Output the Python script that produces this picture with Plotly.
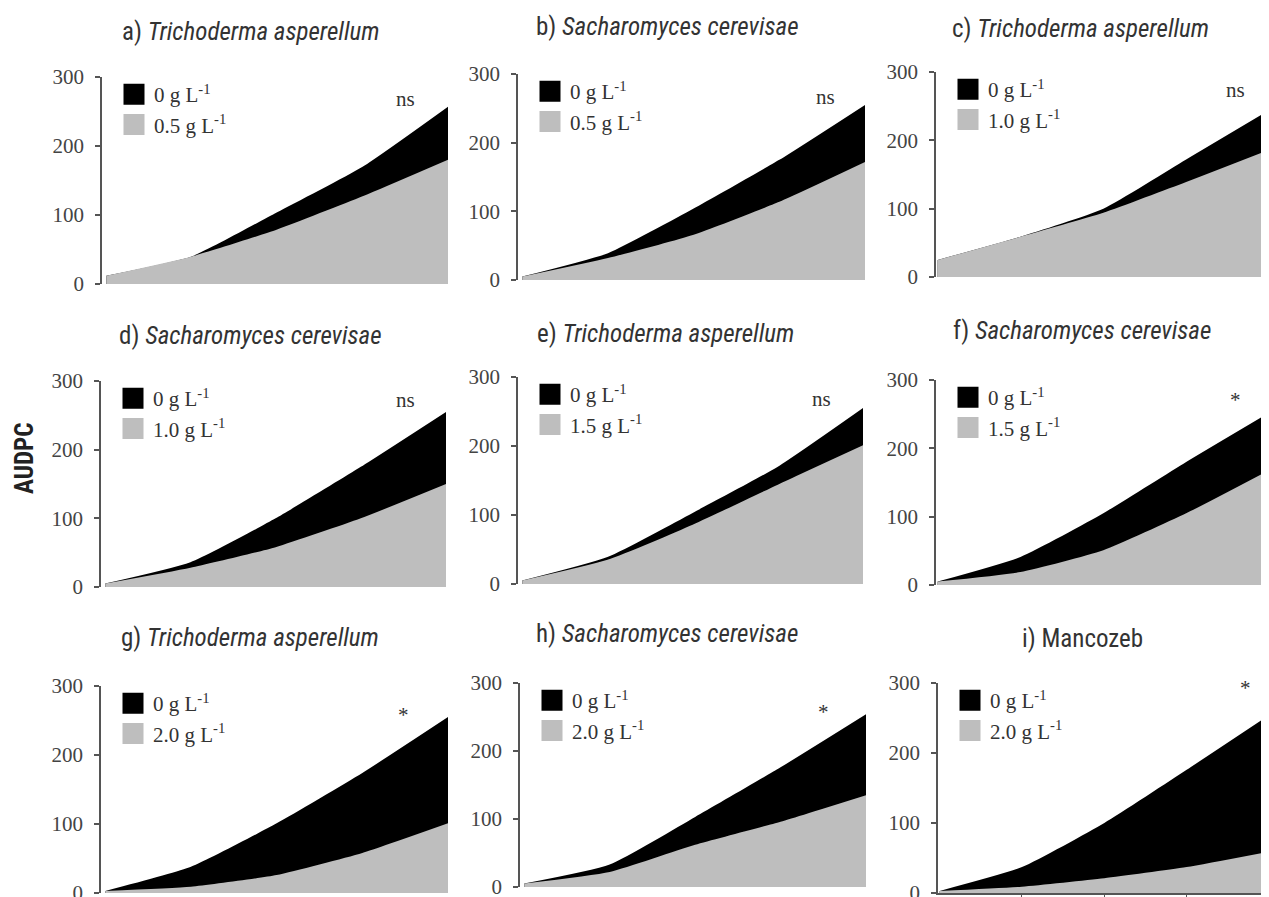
import plotly.graph_objects as go

W, H = 1269, 897
OFF = 8  # page body margin in the browser

time_points = [0, 1, 2, 3, 4]

panel_titles = [
    "a) <i>Trichoderma asperellum</i>",
    "b) <i>Sacharomyces cerevisae</i>",
    "c) <i>Trichoderma asperellum</i>",
    "d) <i>Sacharomyces cerevisae</i>",
    "e) <i>Trichoderma asperellum</i>",
    "f) <i>Sacharomyces cerevisae</i>",
    "g) <i>Trichoderma asperellum</i>",
    "h) <i>Sacharomyces cerevisae</i>",
    "i) Mancozeb",
]
dose_labels = ["0.5", "0.5", "1.0", "1.0", "1.5", "1.5", "2.0", "2.0", "2.0"]
signif_labels = ["ns", "ns", "ns", "ns", "ns", "*", "*", "*", "*"]

control_a = [12, 40, 104, 170, 257]
treated_a = [12, 40, 79, 127, 180]
control_b = [5, 39, 104, 175, 255]
treated_b = [5, 32, 66, 114, 172]
control_c = [25, 59, 100, 172, 244]
treated_c = [25, 59, 94, 139, 186]
control_d = [5, 36, 100, 175, 255]
treated_d = [5, 28, 58, 100, 150]
control_e = [5, 39, 103, 170, 255]
treated_e = [5, 35, 86, 144, 201]
control_f = [5, 41, 105, 180, 252]
treated_f = [5, 19, 51, 105, 168]
control_g = [3, 38, 101, 174, 255]
treated_g = [3, 9, 26, 58, 101]
control_h = [5, 33, 103, 176, 254]
treated_h = [5, 22, 62, 96, 135]
control_i = [3, 37, 100, 176, 254]
treated_i = [3, 9, 21, 37, 59]

controls = [control_a, control_b, control_c, control_d, control_e,
            control_f, control_g, control_h, control_i]
treateds = [treated_a, treated_b, treated_c, treated_d, treated_e,
            treated_f, treated_g, treated_h, treated_i]

y_ticks = [0, 100, 200, 300]

# panel geometry in screen pixels: (left, right, bottom, top)
boxes = [
    (102, 448, 284, 77), (518, 865, 280, 74), (936, 1269, 277, 72),
    (101, 446, 587, 381), (518, 863, 584, 377), (936, 1269, 585, 380),
    (101, 448, 893, 686), (520, 866, 887, 683), (938, 1269, 893, 683),
]
x_ranges = [[-0.05, 4], [-0.05, 4], [-0.02, 4],
            [-0.05, 4], [-0.05, 4], [-0.02, 4],
            [-0.05, 4], [-0.05, 4], [-0.02, 4]]
title_pos = [(250, 32), (667, 27), (1080, 28),
             (250, 335), (665, 333), (1082, 330),
             (250, 637), (667, 633), (1082, 638)]
signif_pos = [(3.5, 268), (3.54, 266), (3.6, 274),
              (3.53, 272), (3.51, 268), (3.59, 271),
              (3.48, 258), (3.5, 258), (3.72, 293)]


def px(x):
    return (x - OFF) / W


def py(y):
    return 1 - (y - OFF) / H


BLACK = "#000000"
GRAY = "#bebebe"
SERIF = "Liberation Serif, Times New Roman, serif"
NARROW = "Liberation Sans Narrow, Arial Narrow, Roboto Condensed, sans-serif"

fig = go.Figure()
layout = dict(
    width=W, height=H, margin=dict(l=0, r=0, t=0, b=0, pad=0, autoexpand=False),
    paper_bgcolor="white", plot_bgcolor="white", showlegend=True,
)
annotations = []

for k in range(9):
    n = "" if k == 0 else str(k + 1)
    xa, ya = "x" + n, "y" + n
    lg = "legend" + n
    left, right, bottom, top = boxes[k]
    layout["xaxis" + n] = dict(
        domain=[px(left), px(right)], anchor=ya, range=x_ranges[k],
        showgrid=False, zeroline=False, showticklabels=False,
        showline=(k == 8), linecolor="#555", linewidth=1.5,
        ticks="outside" if k == 8 else "", ticklen=6, tickcolor="#555",
        tickvals=[1, 2, 3] if k == 8 else [], fixedrange=True, automargin=False,
    )
    layout["yaxis" + n] = dict(
        domain=[py(bottom), py(top)], anchor=xa, range=[0, 300],
        tickvals=y_ticks, showgrid=False, zeroline=False,
        showline=True, linecolor="#555", linewidth=1.5,
        ticks="outside", ticklen=5, tickcolor="#555", tickwidth=1.5,
        tickfont=dict(family=SERIF, size=21, color="#444"),
        ticklabelstandoff=7, ticklabeloverflow="allow",
        fixedrange=True, automargin=False,
    )
    fig.add_trace(go.Scatter(
        x=time_points, y=controls[k], xaxis=xa, yaxis=ya, mode="lines",
        fill="tozeroy", fillcolor=BLACK,
        line=dict(width=0, color=BLACK, shape="spline", smoothing=0.5),
        showlegend=False, hoverinfo="skip",
    ))
    fig.add_trace(go.Scatter(
        x=time_points, y=treateds[k], xaxis=xa, yaxis=ya, mode="lines",
        fill="tozeroy", fillcolor=GRAY,
        line=dict(width=0, color=GRAY, shape="spline", smoothing=0.5),
        showlegend=False, hoverinfo="skip",
    ))
    # legend entries
    fig.add_trace(go.Scatter(
        x=[None], y=[None], xaxis=xa, yaxis=ya, mode="markers",
        marker=dict(symbol="square", size=16, color=BLACK,
                    line=dict(width=5, color=BLACK)),
        name="0 g L<sup>-1</sup>", legend=lg, legendgroup="c" + str(k),
    ))
    fig.add_trace(go.Scatter(
        x=[None], y=[None], xaxis=xa, yaxis=ya, mode="markers",
        marker=dict(symbol="square", size=16, color=GRAY,
                    line=dict(width=5, color=GRAY)),
        name=dose_labels[k] + " g L<sup>-1</sup>", legend=lg, legendgroup="t" + str(k),
    ))
    layout[lg] = dict(
        x=px(left + 12), y=py(top - 3), xanchor="left", yanchor="top",
        bgcolor="rgba(0,0,0,0)", borderwidth=0, itemsizing="trace",
        tracegroupgap=0, traceorder="grouped",
        font=dict(family=SERIF, size=21, color="#333"),
    )
    tx, ty = title_pos[k]
    annotations.append(dict(
        x=px(tx), y=py(ty), xref="paper", yref="paper", text=panel_titles[k],
        showarrow=False, xanchor="center", yanchor="middle",
        font=dict(family=NARROW, size=25, color="#333"),
    ))
    sx, sy = signif_pos[k]
    annotations.append(dict(
        x=sx, y=sy, xref=xa, yref=ya, text=signif_labels[k], showarrow=False,
        xanchor="center", yanchor="middle",
        font=dict(family=SERIF, size=21, color="#333"),
    ))

annotations.append(dict(
    x=px(24), y=py(458), xref="paper", yref="paper", text="<b>AUDPC</b>",
    showarrow=False, textangle=-90, xanchor="center", yanchor="middle",
    font=dict(family=NARROW, size=25, color="#222"),
))
layout["annotations"] = annotations
fig.update_layout(**layout)
fig.write_html("out.html")
